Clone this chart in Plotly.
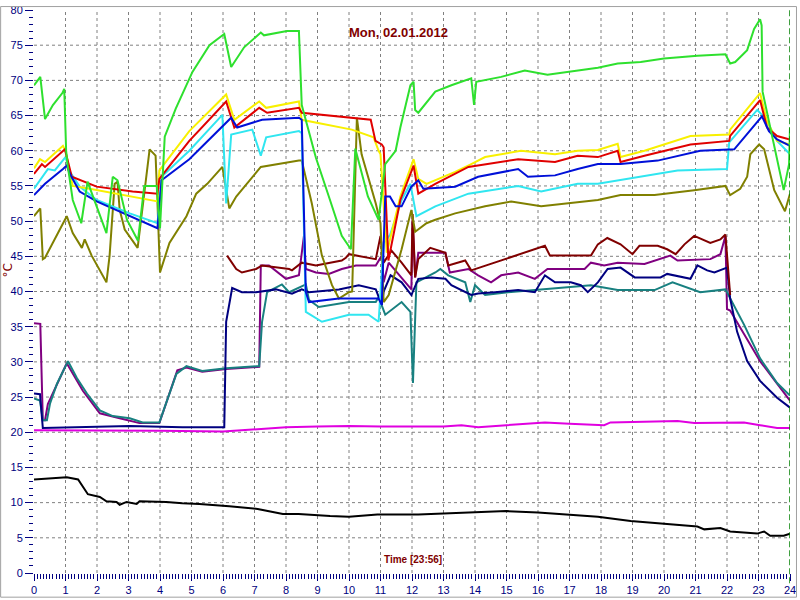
import plotly.graph_objects as go

# ---------------- data (hours, °C) ----------------
green_t = [0, 0.2, 0.35, 0.6, 0.9, 0.96, 1.02, 1.07, 1.23, 1.5, 1.7, 2.0, 2.3, 2.5, 2.65, 2.95, 3.3, 3.5, 3.9, 4.0, 4.15, 4.5, 5.03, 5.57, 6.04, 6.26, 6.67, 7.2, 7.3, 8.03, 8.41, 8.5, 8.95, 9.36, 9.77, 10.06, 10.2, 10.6, 10.94, 11.15, 11.48, 11.63, 11.95, 12.05, 12.1, 12.2, 12.74, 13.25, 13.88, 13.97, 14.04, 14.83, 15.58, 16.3, 16.95, 17.9, 18.53, 19.26, 20.0, 21.06, 21.95, 22.1, 22.26, 22.64, 22.86, 23.05, 23.1, 23.13, 23.8, 23.97, 24.0]
green_v = [69.3, 70.5, 64.5, 66.5, 68.2, 68.8, 60, 57.9, 53, 49.7, 55.6, 52, 48.3, 56.3, 55.8, 50.2, 47.2, 55, 55, 49, 62, 66, 71.2, 75, 76.6, 71.9, 74.7, 76.8, 76.4, 77, 77, 66.5, 59, 53.5, 47.9, 46, 60.3, 53.5, 50.2, 58.1, 60, 63.3, 69.3, 69.8, 65.8, 65.4, 68.4, 69.3, 70.3, 66.5, 69.8, 70.5, 71.4, 70.8, 71.2, 71.8, 72.4, 72.6, 73.1, 73.5, 73.7, 72.4, 72.6, 74.3, 77.3, 78.7, 77.8, 68.4, 54.4, 58.1, 63.3]

yellow_t = [0, 0.19, 0.35, 0.92, 1.0, 1.23, 1.77, 3.04, 3.92, 3.98, 4.93, 6.1, 6.36, 7.15, 7.37, 8.41, 8.5, 10.09, 10.78, 10.94, 11.0, 11.2, 11.63, 12.05, 12.2, 12.46, 13.37, 13.88, 14.32, 15.46, 16.54, 17.26, 17.9, 18.53, 18.62, 19.38, 20.84, 22.07, 22.1, 23.05, 23.27, 23.59, 24.0]
yellow_v = [57.5, 58.8, 58.4, 60.7, 60, 55, 54.6, 53.5, 52.8, 57.2, 62.8, 68, 64.4, 67, 66.1, 67, 64.4, 63, 61.9, 60, 59.5, 45.5, 53.5, 58.8, 56, 55.3, 57, 58.1, 59.1, 60, 59.5, 60, 60.1, 61, 59.1, 60, 62.1, 62.3, 63, 68.2, 64.2, 61.4, 60.9]

red_t = [0, 0.25, 0.35, 0.98, 1.2, 1.99, 3.13, 3.92, 3.98, 4.93, 6.1, 6.36, 7.15, 7.4, 8.41, 8.5, 10.69, 10.84, 11.04, 11.1, 11.25, 11.63, 12.05, 12.2, 12.74, 13.79, 15.37, 16.54, 17.26, 17.9, 18.53, 18.62, 19.38, 20.84, 22.07, 22.1, 23.05, 23.27, 23.59, 24.0]
red_v = [56.7, 58.1, 57.7, 60.2, 56.3, 54.9, 54.2, 53.9, 56, 61.4, 67, 63.3, 66.1, 65.4, 66.1, 65.4, 64.4, 61.4, 60.9, 60.5, 44.4, 53, 57.9, 53.9, 55.3, 57.7, 58.8, 58.4, 59.3, 59.1, 60, 58.4, 59.3, 60.9, 61.4, 62.1, 67.2, 63.3, 62.1, 61.6]

blue_t = [0, 0.35, 0.92, 1.04, 1.14, 1.45, 1.99, 3.04, 3.92, 4.05, 4.93, 6.26, 6.45, 7.24, 8.41, 8.5, 8.63, 8.73, 9.68, 10.94, 11.04, 11.15, 11.3, 11.48, 11.67, 11.98, 12.2, 12.36, 13.37, 14.1, 15.37, 15.68, 16.54, 17.26, 17.9, 18.62, 19.8, 21.15, 22.23, 23.11, 23.33, 23.59, 24.0]
blue_v = [53.7, 55.3, 57.4, 57.9, 56.7, 54.2, 52.8, 50.7, 49, 55.8, 58.8, 64.7, 63.3, 64.4, 64.7, 64.4, 39.9, 38.5, 39, 39, 38.1, 53.5, 53.5, 52.1, 52.1, 54.9, 55.8, 54.6, 54.9, 56.3, 57.4, 56.3, 56.5, 57.4, 58.1, 58.1, 58.6, 60, 60.2, 64.9, 62.8, 61.6, 60.7]

cyan_t = [0, 0.44, 0.66, 1.0, 1.14, 1.45, 1.99, 3.04, 3.92, 4.05, 4.93, 5.98, 6.1, 6.26, 6.93, 7.2, 7.37, 8.41, 8.5, 8.63, 9.14, 10.0, 10.62, 10.94, 11.1, 11.3, 11.67, 11.95, 12.14, 12.74, 13.79, 15.37, 16.1, 17.26, 17.9, 19.16, 20.43, 22.0, 22.07, 22.96, 23.2, 23.59, 24.0]
cyan_v = [54.6, 57.4, 57.2, 59.1, 57, 54.9, 53, 51.1, 49.7, 56.3, 60, 65.1, 52.5, 62.3, 63, 59.3, 61.9, 62.8, 62.5, 37.1, 35.7, 36.7, 36.7, 35.7, 46.9, 48, 53, 55.3, 50.7, 52.1, 53.9, 55, 54.2, 55.3, 55.3, 56.3, 57.2, 57.4, 61.2, 65.8, 64.7, 61.4, 59.5]

olive_t = [0, 0.2, 0.28, 0.35, 1.04, 1.23, 1.52, 1.61, 1.83, 2.3, 2.4, 2.56, 2.65, 2.72, 2.88, 3.29, 3.67, 3.86, 3.92, 4.0, 4.3, 4.84, 5.15, 5.5, 5.98, 6.2, 6.42, 7.2, 8.41, 8.5, 8.82, 9.14, 9.46, 9.68, 10.0, 10.1, 10.25, 10.4, 10.85, 11.0, 11.1, 11.26, 11.67, 11.98, 12.1, 12.46, 12.74, 13.37, 14.32, 15.15, 16.1, 16.95, 17.9, 18.62, 19.7, 20.96, 21.95, 22.1, 22.42, 22.64, 22.74, 23.02, 23.18, 23.5, 23.84, 24.0]
olive_v = [50.7, 51.8, 44.6, 44.8, 50.7, 48.3, 46.2, 47.4, 45.1, 41.3, 45.1, 55.3, 55.6, 51.6, 48.8, 46.2, 60.2, 59.3, 52.5, 42.7, 46.9, 50.7, 53.9, 55.3, 57.7, 51.8, 53.5, 57.7, 58.6, 58.6, 52.5, 45.1, 40.9, 39, 39.9, 40, 64.7, 59.5, 52.5, 49.7, 38.5, 39.5, 46, 51.6, 48.5, 49.7, 50.2, 51.1, 52.1, 52.8, 52.1, 52.5, 53, 53.7, 53.7, 54.4, 55, 53.7, 54.6, 56.3, 59.5, 60.9, 60.2, 54.4, 51.4, 53.9]

maroon_t = [6.13, 6.42, 6.6, 7.05, 7.24, 8.1, 8.19, 8.5, 8.95, 9.77, 9.9, 10.0, 10.85, 11.0, 11.1, 11.35, 11.67, 11.98, 12.02, 12.1, 12.2, 12.58, 13.06, 13.15, 13.69, 13.88, 16.22, 16.38, 16.95, 17.26, 17.68, 17.9, 18.2, 18.62, 19.0, 19.22, 19.8, 20.1, 20.37, 20.65, 20.96, 21.47, 21.79, 21.95, 22.1]
maroon_v = [45.1, 43.2, 42.7, 43.2, 43.7, 43.2, 43, 44.1, 43.7, 44.4, 44.8, 45.3, 44.6, 47.9, 44.1, 45.8, 44.1, 42.3, 51, 42, 44.6, 46.2, 45.5, 43.7, 44.4, 43, 46.5, 45.1, 45.1, 45.1, 45.1, 46.7, 47.6, 46.7, 45.3, 46.5, 46.5, 46, 45.3, 46.7, 47.9, 46.9, 47.4, 48.1, 39.5]

purple_t = [0, 0.2, 0.28, 0.35, 0.44, 1.04, 1.55, 2.09, 2.72, 3.35, 3.98, 4.55, 4.84, 5.34, 6.1, 7.15, 7.2, 7.46, 8.0, 8.41, 8.57, 8.63, 8.95, 9.36, 9.77, 10.22, 10.85, 11.04, 11.1, 11.26, 11.98, 12.02, 12.1, 12.2, 13.06, 13.2, 13.79, 14.1, 14.51, 14.83, 15.37, 15.9, 16.3, 16.95, 17.48, 17.68, 18.1, 18.53, 19.38, 20.2, 20.43, 21.47, 21.79, 21.95, 22.0, 22.1, 22.54, 23.05, 23.59, 24.0]
purple_v = [35.5, 35.4, 21.7, 21.7, 24.0, 29.8, 25.9, 22.7, 22.0, 21.3, 21.3, 28.8, 29.2, 28.6, 29.0, 29.3, 43.7, 43.7, 41.8, 42.3, 47.9, 43.2, 42.7, 42.5, 43.2, 43.7, 43.7, 45.1, 41.3, 44.1, 40.3, 50, 42, 45.5, 45.5, 42.7, 43.2, 42.3, 41.3, 42.3, 42.7, 41.8, 43.2, 43.2, 43.2, 44.1, 43.7, 44.1, 43.9, 45.1, 44.4, 44.6, 45.3, 47.9, 37.5, 37.3, 33.9, 30.1, 26.9, 24.5]

teal_t = [0, 0.19, 0.28, 0.41, 0.51, 0.73, 1.08, 1.36, 1.68, 2.09, 2.5, 3.04, 3.45, 3.98, 4.52, 4.84, 5.34, 6.1, 7.15, 7.24, 7.4, 7.87, 8.1, 8.63, 8.73, 9.04, 10.0, 10.85, 10.94, 11.15, 11.67, 11.95, 12.03, 12.14, 12.74, 12.9, 13.15, 13.69, 13.85, 14.0, 14.32, 15.05, 15.9, 16.95, 17.68, 18.53, 19.7, 20.27, 21.15, 21.95, 22.1, 22.54, 23.05, 23.59, 24.0]
teal_v = [24.8, 24.5, 21.7, 21.7, 24.1, 26.9, 30.1, 27.7, 25.5, 23.1, 22.3, 22.0, 21.4, 21.4, 28.3, 29.4, 28.7, 29.1, 29.4, 35.7, 39.9, 41.0, 39.9, 41.0, 38.8, 37.8, 38.5, 38.5, 39.2, 36.7, 38.5, 37.1, 27.0, 41.3, 42.7, 43.2, 42.3, 41.3, 38.5, 40.9, 39.5, 39.9, 40.2, 40.6, 40.9, 40.2, 40.2, 41.3, 39.9, 40.3, 39.0, 35.3, 30.5, 27.0, 25.2]

navy_t = [0, 0.19, 0.28, 1.04, 3.04, 4.71, 6.04, 6.1, 6.29, 6.6, 7.05, 7.68, 8.19, 8.5, 8.73, 9.68, 10.31, 10.85, 11.04, 11.1, 11.32, 11.67, 11.98, 12.2, 12.62, 13.06, 13.25, 13.88, 14.1, 14.64, 15.37, 15.9, 16.22, 16.54, 17.04, 17.36, 17.58, 17.9, 18.21, 18.62, 19.07, 19.89, 20.1, 20.84, 21.06, 21.37, 21.6, 22.0, 22.1, 22.32, 22.64, 23.05, 23.59, 24.0]
navy_v = [25.5, 25.4, 20.6, 20.7, 20.9, 20.7, 20.7, 35.7, 40.5, 39.9, 39.9, 40.3, 39.7, 40.3, 39.9, 40.3, 40.9, 40.3, 38.1, 40.0, 42.3, 41.3, 39.5, 41.8, 42, 41.8, 40.9, 39.5, 39.7, 39.9, 40.2, 39.9, 42.3, 41.3, 41.3, 40.9, 39.9, 41.3, 43.2, 43.4, 42, 42, 42.5, 41.8, 43.7, 43, 42.7, 43.4, 39, 34.3, 30.1, 27.3, 24.9, 23.5]

magenta_t = [0, 2, 4, 6, 7, 8, 9, 10, 11, 12, 13, 13.57, 14.1, 15, 16.22, 17, 18.1, 18.3, 19, 20.43, 20.96, 22, 22.54, 23.05, 23.59, 24]
magenta_v = [20.3, 20.3, 20.2, 20.1, 20.4, 20.7, 20.8, 20.9, 20.8, 20.8, 20.8, 21.0, 20.7, 21.0, 21.4, 21.2, 21.0, 21.4, 21.5, 21.6, 21.3, 21.3, 21.4, 21.0, 20.6, 20.6]

black_t = [0, 1.04, 1.4, 1.55, 1.71, 2.09, 2.3, 2.62, 2.72, 2.94, 3.26, 3.35, 3.76, 4.2, 4.71, 5.25, 6.2, 7.1, 7.9, 8.4, 9.4, 10, 10.9, 12.2, 13.2, 14.4, 15, 16, 17, 17.9, 18.94, 20.0, 21.06, 21.28, 21.79, 22.1, 22.96, 23.18, 23.37, 23.8, 24]
black_v = [13.3, 13.6, 13.3, 12.3, 11.2, 10.8, 10.2, 10.1, 9.7, 10.1, 9.8, 10.2, 10.2, 10.1, 9.9, 9.8, 9.5, 9.1, 8.4, 8.4, 8.1, 8.0, 8.3, 8.3, 8.5, 8.7, 8.8, 8.6, 8.3, 8.0, 7.4, 7.0, 6.6, 6.2, 6.4, 5.9, 5.6, 5.9, 5.3, 5.3, 5.6]

x_ticks = list(range(0, 25))
y_ticks = list(range(0, 81, 5))
title_text = "Mon, 02.01.2012"
x_title = "Time [23:56]"
y_title = "°C"

series = [
    (magenta_t, magenta_v, "#e000e0"),
    (black_t, black_v, "#000000"),
    (purple_t, purple_v, "#800080"),
    (teal_t, teal_v, "#188080"),
    (navy_t, navy_v, "#000080"),
    (maroon_t, maroon_v, "#800000"),
    (olive_t, olive_v, "#808000"),
    (cyan_t, cyan_v, "#30e6f0"),
    (yellow_t, yellow_v, "#f8f000"),
    (red_t, red_v, "#e00000"),
    (blue_t, blue_v, "#0010d8"),
    (green_t, green_v, "#2ee02e"),
]

fig = go.Figure()
for t, v, c in series:
    fig.add_trace(go.Scatter(x=t, y=v, mode="lines", line=dict(color=c, width=2),
                             showlegend=False, hoverinfo="skip"))

tickfont = dict(family="Liberation Sans, Arial, sans-serif", size=11, color="#000080")
fig.update_layout(
    width=800, height=600,
    margin=dict(l=34, r=7, t=4, b=25),
    paper_bgcolor="white", plot_bgcolor="white",
    xaxis=dict(range=[0, 24], tickvals=x_ticks, ticks="outside", ticklen=7,
               tickcolor="#000080", tickfont=tickfont, showgrid=False,
               zeroline=False, showline=False, ticklabeloverflow="allow",
               minor=dict(dtick=0.1, ticks="outside", ticklen=5, tickcolor="#000080", showgrid=False)),
    yaxis=dict(range=[0, 80], tickvals=y_ticks, ticks="outside", ticklen=8,
               tickcolor="#000080", tickfont=tickfont, showgrid=False,
               zeroline=False, showline=False, ticklabeloverflow="allow",
               minor=dict(dtick=1, ticks="outside", ticklen=4, tickcolor="#000080", showgrid=False)),
)

# dashed grid (inner lines only, like the reference)
for xv in x_ticks[1:-1]:
    fig.add_shape(type="line", xref="x", yref="paper", x0=xv, x1=xv, y0=0, y1=1,
                  line=dict(color="#808080", width=1, dash="3px,3px"), layer="below")
for yv in y_ticks[1:-1]:
    fig.add_shape(type="line", xref="paper", yref="y", x0=0, x1=1, y0=yv, y1=yv,
                  line=dict(color="#808080", width=1, dash="3px,3px"), layer="below")

fig.add_shape(type="line", xref="x", yref="paper", x0=24, x1=24, y0=-0.018, y1=1,
              line=dict(color="#008000", width=1.5, dash="6px,3px"))
fig.add_shape(type="rect", xref="paper", yref="paper",
              x0=-33.5/759, x1=1+6.5/759, y0=-24.5/571, y1=1+3.5/571,
              line=dict(color="#a0a0a0", width=1), layer="above")

fig.add_annotation(text="<b>" + title_text + "</b>", xref="paper", yref="paper",
                   x=(400-34)/759, y=(575-17)/571, showarrow=False,
                   font=dict(family="Liberation Sans, Arial, sans-serif", size=13, color="#800000"))
fig.add_annotation(text="<b>" + x_title + "</b>", xref="paper", yref="paper",
                   x=(415-34)/759, y=(575-569)/571, showarrow=False,
                   font=dict(family="Liberation Sans, Arial, sans-serif", size=10, color="#800000"))
fig.add_annotation(text=y_title, xref="paper", yref="paper", textangle=-90,
                   x=(8-34)/759, y=(575-268)/571, xanchor="center", yanchor="middle",
                   showarrow=False, bgcolor="rgba(0,0,0,0)",
                   font=dict(family="DejaVu Sans, sans-serif", size=12, color="#800000"))

fig.write_html("out.html", config={"displayModeBar": False},
               post_script="document.body.style.margin='0';document.body.style.padding='0';")
